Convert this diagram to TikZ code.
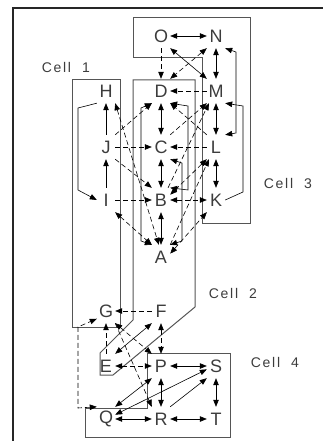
\documentclass[tikz,border=0pt]{standalone}
\usepackage{fontspec}
\setmainfont{Liberation Sans}
\newfontfamily\cellfont[LetterSpace=12]{Liberation Sans}
\usetikzlibrary{arrows.meta,positioning}
\definecolor{cellgray}{RGB}{85,85,85}
\definecolor{textgray}{RGB}{60,60,60}

\begin{document}
\begin{tikzpicture}[x=1pt, y=-1pt, >={Triangle[length=7pt,width=5.5pt]},
    ltr/.style={minimum width=18pt, minimum height=24pt, inner sep=0pt, font=\fontsize{18}{18}\selectfont, text=textgray},
    cellbox/.style={draw=cellgray, line width=1pt},
    celllbl/.style={font=\cellfont\fontsize{14}{14}\selectfont, text=textgray},
    conn/.style={line width=0.6pt},
    dconn/.style={line width=0.6pt, dash pattern=on 5pt off 3pt}]
    \useasboundingbox (0,0) rectangle (323,441);
    \draw[line width=1.6pt, draw=black!85] (13,460) -- (13,8) -- (340,8);

    % cells
    \draw[cellbox] (133,18) -- (250,18) -- (250,223) -- (202,223) -- (202,58) -- (133,58) -- cycle;
    \draw[cellbox] (72,80) rectangle (120,327);
    \draw[cellbox] (133,80) -- (195,80) -- (195,307) -- (113,375) -- (100,375) -- (100,353) -- (133,320) -- cycle;
    \draw[cellbox] (147,353) -- (230,353) -- (230,437) -- (85,437) -- (85,408) -- (147,408) -- cycle;
    \node[celllbl] (c1) at (66,67) {Cell\ \ 1};
    \node[celllbl] (c2) at (233,293) {Cell\ \ 2};
    \node[celllbl] (c3) at (288,183) {Cell\ \ 3};
    \node[celllbl] (c4) at (275,362) {Cell\ \ 4};

    % nodes
    \node[ltr] (o) at (161,36) {O};
    \node[ltr] (n) at (216,36) {N};
    \node[ltr] (h) at (106,91) {H};
    \node[ltr] (d) at (161,91) {D};
    \node[ltr] (m) at (216,91) {M};
    \node[ltr] (j) at (106,147) {J};
    \node[ltr] (c) at (161,147) {C};
    \node[ltr] (l) at (216,147) {L};
    \node[ltr] (i) at (106,200) {I};
    \node[ltr] (b) at (161,200) {B};
    \node[ltr] (k) at (216,200) {K};
    \node[ltr] (a) at (161,257) {A};
    \node[ltr] (g) at (106,311) {G};
    \node[ltr] (f) at (161,311) {F};
    \node[ltr] (e) at (106,366) {E};
    \node[ltr] (p) at (161,366) {P};
    \node[ltr] (s) at (216,366) {S};
    \node[ltr] (q) at (106,419) {Q};
    \node[ltr] (r) at (161,419) {R};
    \node[ltr] (t) at (216,419) {T};

    % solid links
    \draw[conn,<->] (o) -- (n);
    \draw[conn,<->] (n) -- (m);
    \draw[conn,<->] (o.south east) -- (m.north west);
    \draw[conn,<->] (m) -- (l);
    \draw[conn,<->] (l) -- (k);
    \draw[conn,<->] (d) -- (c);
    \draw[conn,<->] (c) -- (b);
    \draw[conn,<->] (b) -- (a);
    \draw[conn,->] (i) -- (j);
    \draw[conn,->] (j) -- (h);
    \draw[conn,<->] (n.south east) -- (236,52) -- (236,133) -- (l.north east);
    \draw[conn,->] (k.east) -- (243,192) -- (243,106) -- (m.south east);
    \draw[conn,->] (h.south west) -- (78,108) -- (78,190) -- (i.west);
    \draw[conn,<->] (d.south west) -- (141,108) -- (141,241) -- (a.north west);
    \draw[conn,<->] (c.south east) -- (182,163) -- (182,241) -- (a.north east);
    \draw[conn,<->] (d.south east) -- (188,106) -- (188,190) -- (b.north east);
    \draw[conn,<->] (f.south west) -- (e.north east);
    \draw[conn,<->] (p) -- (s);
    \draw[conn,<->] (p) -- (r);
    \draw[conn,<->] (s) -- (t);
    \draw[conn,<->] (q) -- (r);
    \draw[conn,<->] (r) -- (t);
    \draw[conn,<->] (q.north east) -- (p.south west);
    \draw[conn,<->] (q.25) -- (s.200);
    \draw[conn,->] (r.north east) -- (s.south west);

    % dashed links
    \draw[dconn,->] (o) -- (d);
    \draw[dconn,<->] (n.south west) -- (d.north east);
    \draw[dconn,->] (m) -- (d);
    \draw[dconn,->] (j.north east) -- (d.south west);
    \draw[dconn,->] (j) -- (c);
    \draw[dconn,->] (j.south east) -- (b.north west);
    \draw[dconn,->] (i) -- (b);
    \draw[dconn,<->] (i.south east) -- (a.north west);
    \draw[dconn,<->] (h.south east) -- (a.100);
    \draw[dconn,->] (l) -- (c);
    \draw[dconn,->] (l.north west) -- (d.south east);
    \draw[dconn,->] (c.north east) -- (m.south west);
    \draw[dconn,->] (b.60) -- (m.240);
    \draw[dconn,<->] (b.30) -- (l.south west);
    \draw[dconn,->] (a.north east) -- (l.240);
    \draw[dconn,<->] (a.20) -- (k.south west);
    \draw[dconn,<->] (b) -- (k);
    \draw[dconn,->] (f) -- (g);
    \draw[dconn,->] (e) -- (g);
    \draw[dconn,<->] (f) -- (p);
    \draw[dconn,<->] (e) -- (p);
    \draw[dconn,<->] (g.south east) -- (p.north west);
    \draw[dconn,->] (g.south east) -- (r.north west);
    \draw[dconn,<->] (q.north west) -- (78,408) -- (78,327) -- (g.220);
\end{tikzpicture}
\end{document}
